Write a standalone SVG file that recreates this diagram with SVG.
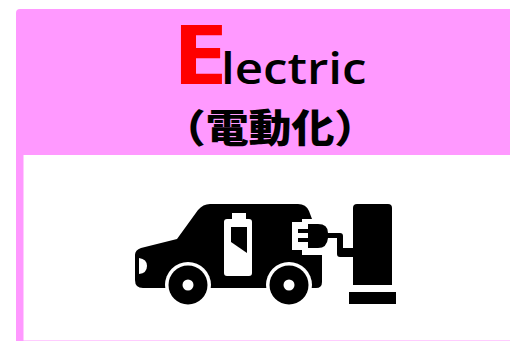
<svg xmlns="http://www.w3.org/2000/svg" width="510" height="341" viewBox="0 0 510 341">
<style>
.k{fill:#000}.w{fill:#fff}
.t{font-family:"Open Sans","Noto Sans",sans-serif;fill:#000}
</style>
<rect width="510" height="341" fill="#fff"/>
<g id="panel">
<path d="M16 13a4 4 0 0 1 4-4H510V341H16Z" fill="#f9f"/>
<rect x="23.500" y="155" width="486.500" height="185" fill="#fff"/>
<rect x="23.500" y="340" width="486.500" height="1" fill="#fcf"/>
</g>
<g id="title">
<text transform="translate(172 84) scale(1.2 1)" font-size="83" font-weight="700" style="fill:#f00;font-family:'Noto Sans',sans-serif">E</text>
<text class="t" transform="translate(221 84) scale(1.12 1)" font-size="44" font-weight="600">lectric</text>
<text transform="translate(270 142) scale(1.1 1)" font-size="39" font-weight="900" text-anchor="middle" style="fill:#000;font-family:'Noto Sans CJK JP',sans-serif">（電動化）</text>
</g>
<g id="ev-icon">
<path class="k" d="M198 210Q203 204 210 204H298Q306 204 309 211L312 219H302V222H292V250H302V255H322V282Q322 288 316 288H143Q135 288 135 280V255Q135 250 141 248L177 239Z"/>
<circle class="w" cx="188" cy="285" r="23"/>
<circle class="w" cx="289" cy="285" r="23"/>
<circle class="k" cx="188" cy="285" r="19.500"/>
<circle class="k" cx="289" cy="285" r="19.500"/>
<circle class="w" cx="188" cy="285" r="5.500"/>
<circle class="w" cx="289" cy="285" r="5.500"/>
<path class="w" d="M139 258Q147 259 147 266Q147 273 139 274Z"/>
<path class="w" d="M232 213V219H227Q224 219 224 222V273Q224 276 227 276H249Q252 276 252 273V222Q252 219 249 219H246V213Z"/>
<path class="k" d="M231 227H247V253L231 242Z"/>
<path class="k" d="M298 229H309V233H298ZM298 238H309V242H298Z"/>
<path class="k" d="M308 224H318Q328 224 328 233H340Q343 233 343 236V248H353V257H340Q337 257 337 254V238H328Q327 248 318 248H308Z"/>
<path class="k" d="M353 208Q353 204 357 204H388Q392 204 392 208V285H353Z"/>
<rect class="k" x="349" y="292" width="47" height="12"/>
</g>
</svg>
